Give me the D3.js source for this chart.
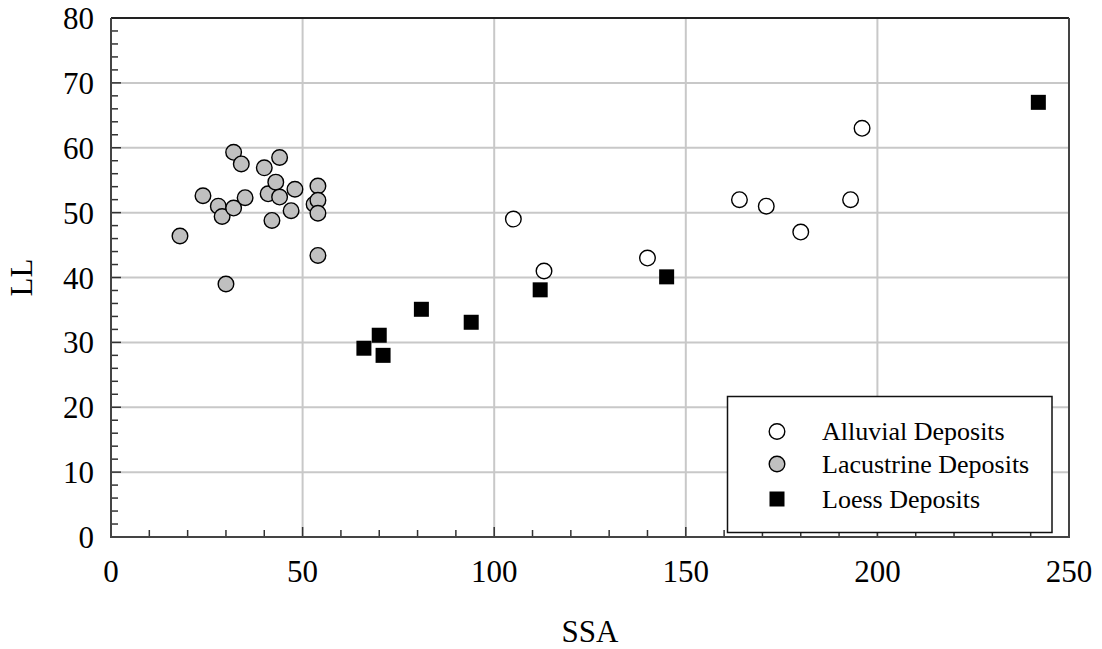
<!DOCTYPE html>
<html>
<head>
<meta charset="utf-8">
<script src="https://cdn.jsdelivr.net/npm/d3@7"></script>
<style>
  html, body { margin: 0; padding: 0; background: #fff; }
  svg { display: block; }
  text { font-family: "Liberation Serif", "Times New Roman", serif; fill: #000; }
</style>
</head>
<body>
<svg id="chart" width="1102" height="649"></svg>
<script>
// ---- Data ----
const alluvialSSA = [105, 113, 140, 164, 171, 180, 193, 196];
const alluvialLL  = [49, 41, 43, 52, 51, 47, 52, 63];

const lacustrineSSA = [18, 24, 28, 29, 30, 32, 32, 34, 35, 40, 41, 42, 43, 44, 44, 47, 48, 53, 54, 54, 54, 54];
const lacustrineLL  = [46.4, 52.6, 51.0, 49.4, 39.0, 59.3, 50.7, 57.5, 52.3, 56.9, 52.9, 48.8, 54.7, 58.5, 52.4, 50.3, 53.6, 51.3, 54.1, 51.9, 49.9, 43.4];

const loessSSA = [66, 70, 71, 81, 94, 112, 145, 242];
const loessLL  = [29.1, 31.1, 28.0, 35.1, 33.1, 38.1, 40.1, 67.0];

const xTicks = [0, 50, 100, 150, 200, 250];
const yTicks = [0, 10, 20, 30, 40, 50, 60, 70, 80];
const legendLabels = ["Alluvial Deposits", "Lacustrine Deposits", "Loess Deposits"];
const xTitle = "SSA";
const yTitle = "LL";

(function () {
// ---- Layout ----
const svg = d3.select("#chart");
const pL = 111, pR = 1069, pT = 18, pB = 537;
const x = d3.scaleLinear().domain([0, 250]).range([pL, pR]);
const y = d3.scaleLinear().domain([0, 80]).range([pB, pT]);

// Gridlines
const grid = svg.append("g");
grid.selectAll("line.gx").data(xTicks.filter(d => d > 0 && d < 250)).enter().append("line")
  .attr("x1", d => x(d)).attr("x2", d => x(d)).attr("y1", pT).attr("y2", pB)
  .attr("stroke", "#c8c8c8").attr("stroke-width", 2);
grid.selectAll("line.gy").data(yTicks.filter(d => d > 0 && d < 80)).enter().append("line")
  .attr("x1", pL).attr("x2", pR).attr("y1", d => y(d)).attr("y2", d => y(d))
  .attr("stroke", "#c8c8c8").attr("stroke-width", 2);

// Ticks inside (minor + major)
const ticks = svg.append("g").attr("stroke", "#333").attr("stroke-width", 1.5);
d3.range(0, 251, 10).forEach(v => {
  const len = (v % 50 === 0) ? 10 : 7;
  ticks.append("line").attr("x1", x(v)).attr("x2", x(v)).attr("y1", pB).attr("y2", pB - len);
});
d3.range(0, 81, 2).forEach(v => {
  const len = (v % 10 === 0) ? 10 : 7;
  ticks.append("line").attr("x1", pL).attr("x2", pL + len).attr("y1", y(v)).attr("y2", y(v));
});

// Frame
svg.append("line").attr("x1", pL).attr("x2", pR).attr("y1", pT).attr("y2", pT).attr("stroke", "#222").attr("stroke-width", 2);
svg.append("line").attr("x1", pR).attr("x2", pR).attr("y1", pT).attr("y2", pB).attr("stroke", "#444").attr("stroke-width", 2);
svg.append("line").attr("x1", pL).attr("x2", pL).attr("y1", pT).attr("y2", pB + 1).attr("stroke", "#444").attr("stroke-width", 2);
svg.append("line").attr("x1", pL).attr("x2", pR + 1).attr("y1", pB).attr("y2", pB).attr("stroke", "#444").attr("stroke-width", 2);

// Tick labels
svg.append("g").selectAll("text").data(xTicks).enter().append("text")
  .attr("x", d => x(d)).attr("y", pB + 45)
  .attr("text-anchor", "middle").attr("font-size", 31).text(d => d);
svg.append("g").selectAll("text").data(yTicks).enter().append("text")
  .attr("x", pL - 17).attr("y", d => y(d) + 11)
  .attr("text-anchor", "end").attr("font-size", 31).text(d => d);

// Axis titles
svg.append("text").attr("x", (pL + pR) / 2).attr("y", 642)
  .attr("text-anchor", "middle").attr("font-size", 31).text(xTitle);
svg.append("text").attr("transform", `translate(32, ${(pT + pB) / 2}) rotate(-90)`)
  .attr("text-anchor", "middle").attr("font-size", 31).text(yTitle);

// Points
const pts = svg.append("g");
pts.selectAll("circle.lac").data(lacustrineSSA.map((d, i) => [d, lacustrineLL[i]])).enter().append("circle")
  .attr("cx", d => x(d[0])).attr("cy", d => y(d[1])).attr("r", 7.8)
  .attr("fill", "#c0c0c0").attr("stroke", "#000").attr("stroke-width", 1.4);
pts.selectAll("circle.all").data(alluvialSSA.map((d, i) => [d, alluvialLL[i]])).enter().append("circle")
  .attr("cx", d => x(d[0])).attr("cy", d => y(d[1])).attr("r", 7.8)
  .attr("fill", "#fff").attr("stroke", "#000").attr("stroke-width", 1.4);
pts.selectAll("rect.lo").data(loessSSA.map((d, i) => [d, loessLL[i]])).enter().append("rect")
  .attr("x", d => x(d[0]) - 7.5).attr("y", d => y(d[1]) - 7.5).attr("width", 15).attr("height", 15)
  .attr("fill", "#000");

// Legend
const lg = svg.append("g");
lg.append("rect").attr("x", 727.5).attr("y", 396.5).attr("width", 324.5).attr("height", 136)
  .attr("fill", "#fff").attr("stroke", "#111").attr("stroke-width", 1.5);
const rows = [431.5, 464, 499];
lg.append("circle").attr("cx", 777).attr("cy", rows[0]).attr("r", 7.8)
  .attr("fill", "#fff").attr("stroke", "#000").attr("stroke-width", 1.4);
lg.append("circle").attr("cx", 777).attr("cy", rows[1]).attr("r", 7.8)
  .attr("fill", "#c0c0c0").attr("stroke", "#000").attr("stroke-width", 1.4);
lg.append("rect").attr("x", 777 - 7.5).attr("y", rows[2] - 7.5).attr("width", 15).attr("height", 15).attr("fill", "#000");
lg.selectAll("text").data(legendLabels).enter().append("text")
  .attr("x", 822).attr("y", (d, i) => [439.5, 472.5, 508][i])
  .attr("font-size", 26).text(d => d);
})();
</script>
</body>
</html>
